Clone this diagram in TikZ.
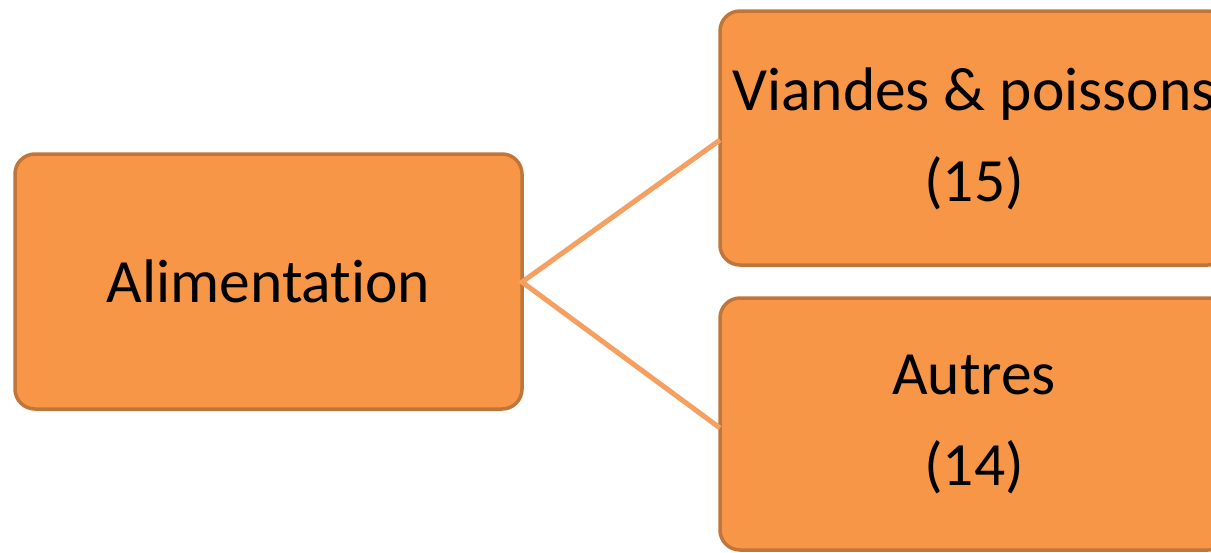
\documentclass[tikz,border=0pt]{standalone}
\usepackage{fontspec}
\setmainfont[Ligatures=NoCommon]{Carlito}
\definecolor{boxfill}{HTML}{F79646}
\definecolor{boxedge}{HTML}{C0763A}
\definecolor{linkcol}{HTML}{F5A060}
\begin{document}
\begin{tikzpicture}[x=1pt,y=-1pt,
  box/.style={draw=boxedge, fill=boxfill, line width=3.5pt, rounded corners=20pt},
  lbl/.style={font=\fontsize{61.5}{91}\selectfont, align=center, text=black},
  link/.style={draw=linkcol, line width=5pt}]
\useasboundingbox (0,0) rectangle (1211,552);
\draw[box] (15,154) rectangle (522,409);
\draw[box] (720,11) rectangle (1228,265);
\draw[box] (720,298) rectangle (1228,550);
\node[lbl] (ali) at (268.5,281.5) {Alimentation};
\node[lbl] (via) at (974,139) {Viandes \& poissons\\(15)};
\node[lbl] (aut) at (974,425) {Autres\\(14)};
\coordinate (aliE) at (522,282);
\coordinate (viaW) at (720,140);
\coordinate (autW) at (720,428);
\draw[link] (viaW) -- (aliE) -- (autW);
\end{tikzpicture}
\end{document}
